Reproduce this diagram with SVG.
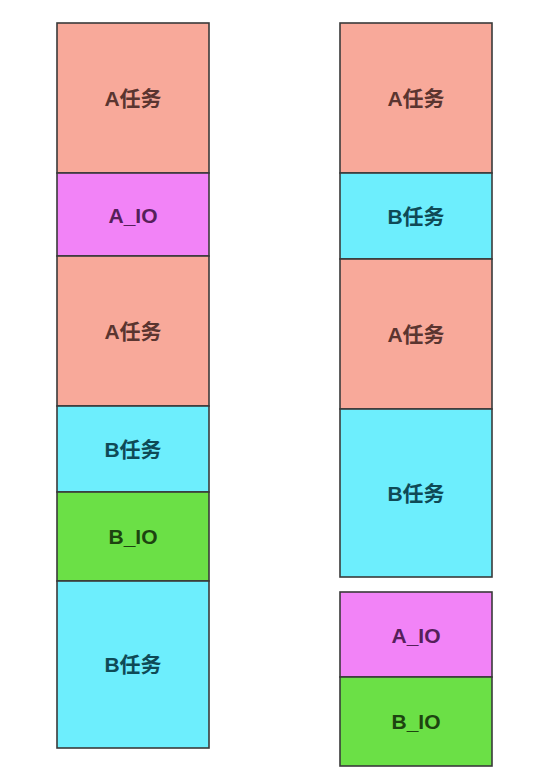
<svg xmlns="http://www.w3.org/2000/svg" width="558" height="775" viewBox="0 0 558 775">
<style>
.box{stroke:#3a3a3a;stroke-width:1.6}
.a{fill:#F8A99A}
.b{fill:#6DEEFD}
.aio{fill:#F283F7}
.bio{fill:#6BE046}
text{font-family:"Liberation Sans","Noto Sans CJK SC",sans-serif;font-size:21px;font-weight:bold;text-anchor:middle;dominant-baseline:central}
.ta{fill:#5a3530}
.tb{fill:#0f4a56}
.taio{fill:#55205a}
.tbio{fill:#1d4410}
</style>
<rect x="0" y="0" width="558" height="775" fill="#ffffff"/>
<g id="left-col">
<g id="L1"><rect class="box a" x="57" y="23" width="152" height="150"/><text class="ta" x="133" y="98">A任务</text></g>
<g id="L2"><rect class="box aio" x="57" y="173" width="152" height="83"/><text class="taio" x="133" y="215">A_IO</text></g>
<g id="L3"><rect class="box a" x="57" y="256" width="152" height="150"/><text class="ta" x="133" y="331">A任务</text></g>
<g id="L4"><rect class="box b" x="57" y="406" width="152" height="86"/><text class="tb" x="133" y="449">B任务</text></g>
<g id="L5"><rect class="box bio" x="57" y="492" width="152" height="89"/><text class="tbio" x="133" y="536">B_IO</text></g>
<g id="L6"><rect class="box b" x="57" y="581" width="152" height="167"/><text class="tb" x="133" y="664">B任务</text></g>
</g>
<g id="right-col">
<g id="R1"><rect class="box a" x="340" y="23" width="152" height="150"/><text class="ta" x="416" y="98">A任务</text></g>
<g id="R2"><rect class="box b" x="340" y="173" width="152" height="86"/><text class="tb" x="416" y="216">B任务</text></g>
<g id="R3"><rect class="box a" x="340" y="259" width="152" height="150"/><text class="ta" x="416" y="334">A任务</text></g>
<g id="R4"><rect class="box b" x="340" y="409" width="152" height="168"/><text class="tb" x="416" y="493">B任务</text></g>
<g id="R5"><rect class="box aio" x="340" y="592" width="152" height="85"/><text class="taio" x="416" y="635">A_IO</text></g>
<g id="R6"><rect class="box bio" x="340" y="677" width="152" height="89"/><text class="tbio" x="416" y="721">B_IO</text></g>
</g>
<g id="connectors"/>
</svg>
